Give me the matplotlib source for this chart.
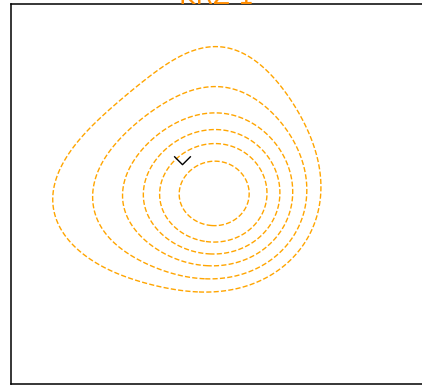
import numpy as np
import matplotlib
matplotlib.use('Agg')
import matplotlib.pyplot as plt
from matplotlib.path import Path

title = "KRZ 1"

# core density component (data units)
core_x = 5.38
core_y = 5.00
core_sx = 1.737
core_sy = 1.605
core_w = 1.0

# broad skirt toward the left and the top (radial ramp + two angular lobes)
skirt_r_mid = 2.37      # radius where the skirt reaches half weight
skirt_r_width = 0.474   # steepness of the radial ramp
skirt_angles = [187.0, 86.0]   # lobe directions, degrees
skirt_weights = [0.238, 0.238]  # lobe weights
skirt_spread = 38.0     # angular sigma of each lobe, degrees

# contour levels
levels = [0.29, 0.39, 0.506, 0.62, 0.735, 0.875]

# marker
marker_x = [4.51]
marker_y = [5.89]

x_range = (0, 11)
y_range = (0, 10)

xs = np.linspace(x_range[0], x_range[1], 600)
ys = np.linspace(y_range[0], y_range[1], 550)
X, Y = np.meshgrid(xs, ys)
DX = X - core_x
DY = Y - core_y
core = core_w * np.exp(-0.5 * ((DX / core_sx) ** 2 + (DY / core_sy) ** 2))
R = np.hypot(DX, DY)
theta = np.degrees(np.arctan2(DY, DX))
radial = 1.0 / (1.0 + np.exp(-(R - skirt_r_mid) / skirt_r_width))
skirt = np.zeros_like(theta)
for a, w in zip(skirt_angles, skirt_weights):
    d = (theta - a + 180.0) % 360.0 - 180.0
    skirt += w * np.exp(-0.5 * (d / skirt_spread) ** 2)
Z = core + radial * skirt

fig = plt.figure(figsize=(4.22, 3.85), dpi=100)
ax = fig.add_axes([10.5 / 422, 1 / 385, 418 / 422, 380 / 385])
ax.contour(X, Y, Z, levels=levels, colors='orange', linestyles='--', linewidths=1.0)

vpath = Path([(-1, 0.5), (0, -0.5), (1, 0.5)], [Path.MOVETO, Path.LINETO, Path.LINETO])
ax.plot(marker_x, marker_y, linestyle='none', marker=vpath, markersize=12,
        markeredgecolor='black', markerfacecolor='none', markeredgewidth=1.0)

ax.set_xlim(*x_range)
ax.set_ylim(*y_range)
ax.set_xticks([])
ax.set_yticks([])
for s in ax.spines.values():
    s.set_linewidth(1.1)
    s.set_color('black')

fig.text(216 / 422, 1 - 4.5 / 385, title, ha='center', va='baseline',
         fontsize=18, color='darkorange', zorder=0)

fig.savefig('out.png', dpi=100)
